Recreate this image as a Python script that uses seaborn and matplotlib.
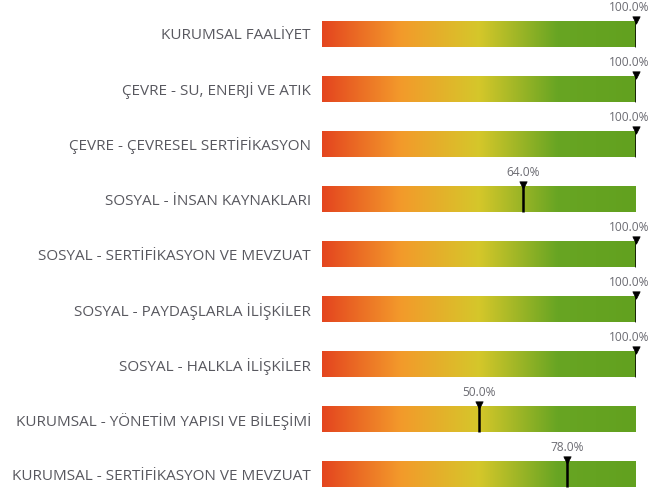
import numpy as np
import pandas as pd
import seaborn as sns
import matplotlib.pyplot as plt
from matplotlib.colors import LinearSegmentedColormap

# veriler
kategoriler = [
    'KURUMSAL FAALİYET',
    'ÇEVRE - SU, ENERJİ VE ATIK',
    'ÇEVRE - ÇEVRESEL SERTİFİKASYON',
    'SOSYAL - İNSAN KAYNAKLARI',
    'SOSYAL - SERTİFİKASYON VE MEVZUAT',
    'SOSYAL - PAYDAŞLARLA İLİŞKİLER',
    'SOSYAL - HALKLA İLİŞKİLER',
    'KURUMSAL - YÖNETİM YAPISI VE BİLEŞİMİ',
    'KURUMSAL - SERTİFİKASYON VE MEVZUAT',
]
degerler = [100.0, 100.0, 100.0, 64.0, 100.0, 100.0, 100.0, 50.0, 78.0]
skala_max = [100.0] * len(kategoriler)

renk_duraklari = [(0.0, '#e4451f'), (0.25, '#f39a2b'), (0.5, '#d5c72a'),
                  (0.75, '#68a523'), (1.0, '#62a11f')]

sns.set_style('white')
plt.rcParams['font.family'] = ['Open Sans', 'DejaVu Sans']

df = pd.DataFrame({'kategori': kategoriler, 'deger': degerler, 'max': skala_max})

fig = plt.figure(figsize=(6.52, 4.92), dpi=100)
ax = fig.add_axes([322 / 652, 0, 314 / 652, 1])

sns.barplot(data=df, x='max', y='kategori', orient='h', width=0.47,
            color='white', ax=ax)

# gradyan dolgu
cmap = LinearSegmentedColormap.from_list('rg', renk_duraklari)
gradyan = np.linspace(0, 1, 256).reshape(1, -1)
for p in list(ax.patches):
    x0, y0, w, h = p.get_x(), p.get_y(), p.get_width(), p.get_height()
    p.set_facecolor('none')
    p.set_edgecolor('none')
    im = ax.imshow(gradyan, extent=[x0, x0 + w, y0 + h, y0], aspect='auto',
                   cmap=cmap, zorder=1, interpolation='bilinear')
    im.set_clip_path(p)

# göstergeler
yarim = 0.47 / 2
y_pos = np.arange(len(kategoriler))
ax.vlines(degerler, y_pos - yarim - 0.02, y_pos + yarim, color='black',
          linewidth=1.8, zorder=3)
sns.scatterplot(x=degerler, y=y_pos - yarim - 0.02, marker='v', s=28,
                color='black', edgecolor='black', linewidth=0.5, zorder=4,
                ax=ax, clip_on=False)
for i, v in enumerate(degerler):
    dx = -7 if v >= 95 else 0
    ax.annotate(f'{v:.1f}%', (v, i - 0.48), xytext=(dx, 0),
                textcoords='offset pixels', ha='center', va='center',
                fontsize=8.6, color='#6b6b72', annotation_clip=False)

ax.set_xlim(0, 100)
ax.set_ylim(8.327, -0.618)
ax.set_xlabel('')
ax.set_ylabel('')
ax.set_xticks([])
ax.tick_params(axis='y', length=0, pad=8, labelsize=11, labelcolor='#58585f')
sns.despine(ax=ax, left=True, bottom=True)

fig.savefig('out.png', dpi=100)
